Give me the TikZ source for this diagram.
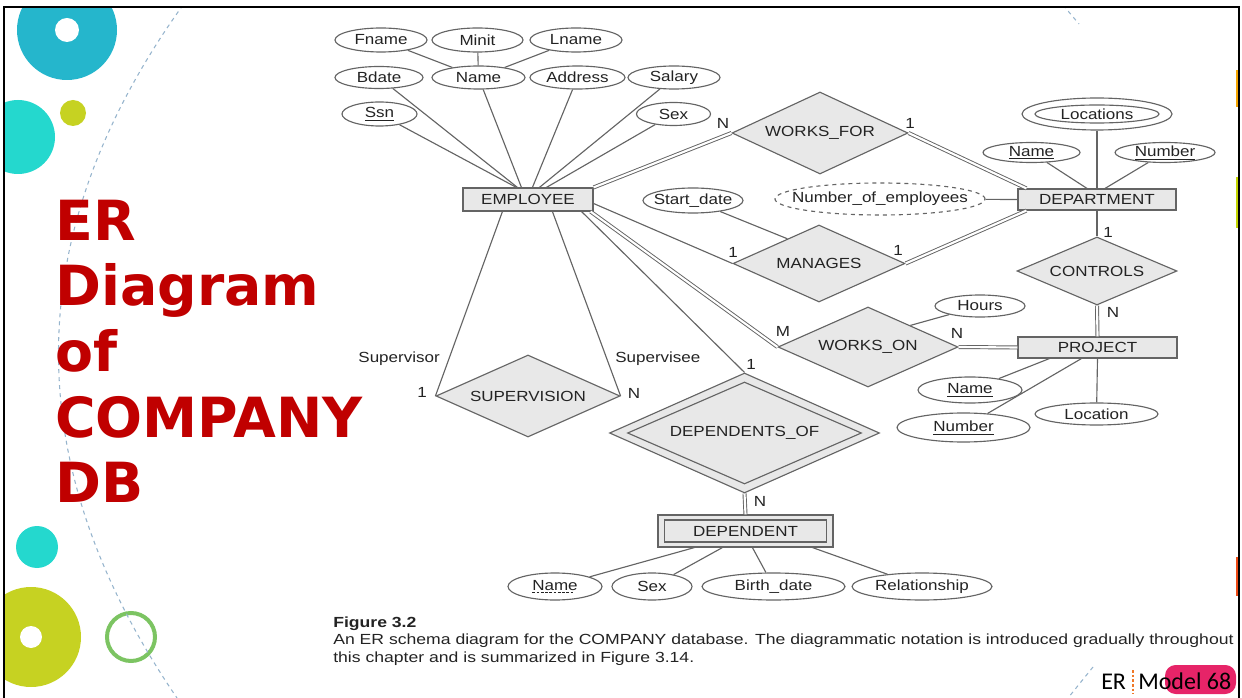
\documentclass[tikz,border=0pt]{standalone}
\usepackage{fontspec}
\usetikzlibrary{shapes.geometric,calc}
\newfontfamily\figfont[FakeStretch=1.16]{Liberation Sans}
\newfontfamily\capfont[FakeStretch=1.2]{Liberation Sans}
\newfontfamily\titlefont{DejaVu Sans}
\newfontfamily\slidefont{Carlito}
\definecolor{lc}{RGB}{100,100,100}
\definecolor{boxfill}{RGB}{232,232,232}
\definecolor{txt}{RGB}{35,35,35}
\definecolor{titlered}{RGB}{192,0,0}
\definecolor{tealA}{RGB}{37,182,204}
\definecolor{turq}{RGB}{36,216,206}
\definecolor{limeA}{RGB}{198,210,34}
\definecolor{greenring}{RGB}{124,196,98}
\definecolor{arcblue}{RGB}{150,180,205}
\definecolor{pinkhl}{RGB}{230,36,104}
\definecolor{stripor}{RGB}{246,166,0}
\definecolor{stripgr}{RGB}{196,214,0}
\definecolor{stripred}{RGB}{238,74,20}
\definecolor{dashor}{RGB}{240,120,40}
% zero-width centred text, so the shape size comes from the minimum sizes
\newcommand{\zb}[1]{\makebox[0pt]{#1}}
% key underlines: solid and dashed
\newsavebox{\keybox}
\newcommand{\keyul}[1]{\sbox{\keybox}{#1}\rlap{\raisebox{-2.2pt}{\rule{\wd\keybox}{0.55pt}}}\usebox{\keybox}}
\newcommand{\keydul}[1]{\sbox{\keybox}{#1}\rlap{\raisebox{-2.2pt}{\hbox to \wd\keybox{\leaders\hbox{\rule{2pt}{0.55pt}\hskip1.2pt}\hfill}}}\usebox{\keybox}}
\begin{document}
\begin{tikzpicture}[x=0.75pt,y=-0.75pt,
  lab/.style={font=\figfont\fontsize{11}{13}\selectfont, text=txt, inner sep=0pt},
  attr/.style 2 args={ellipse, draw=lc, line width=0.85pt, fill=white,
    minimum width=#1*1.5pt, minimum height=#2*1.5pt, inner sep=0pt, lab},
  ent/.style 2 args={rectangle, draw=lc, line width=0.85pt, fill=boxfill,
    minimum width=#1*0.75pt, minimum height=#2*0.75pt, inner sep=0pt, lab},
  rel/.style 2 args={diamond, draw=lc, line width=0.85pt, fill=boxfill,
    minimum width=#1*1.5pt, minimum height=#2*1.5pt, inner sep=0pt, lab},
  ln/.style={draw=lc, line width=0.85pt},
  dbl/.style={draw=lc, line width=0.7pt, double=white, double distance=1.6pt},
  card/.style={lab},
  titleline/.style={anchor=base west, inner sep=0pt, text=titlered,
    font=\titlefont\bfseries\fontsize{41.5}{48}\selectfont},
  capline/.style={anchor=base west, inner sep=0pt, text=txt,
    font=\capfont\fontsize{11}{13}\selectfont},
  decodash/.style={draw=arcblue, line width=0.8pt, dash pattern=on 3pt off 3pt}]
\useasboundingbox (0,0) rectangle (1242,698);

% slide decorations, kept inside the frame
\begin{scope}
  \clip (4,7) rectangle (1239,698);
  \fill[tealA] (67,30) circle[radius=50];
  \fill[white] (67,30) circle[radius=12];
  \fill[turq] (18,137) circle[radius=37];
  \fill[limeA] (73,113) circle[radius=13];
  \fill[turq] (37,547) circle[radius=21];
  \fill[limeA] (31,637) circle[radius=50];
  \fill[white] (31,637) circle[radius=11];
  \draw[greenring, line width=3pt] (131,637) circle[radius=24];
  \draw[decodash] (183,5) .. controls (18,235) and (18,465) .. (177,698);
  \draw[decodash] (1063,5) -- (1079,24);
  \draw[decodash] (1093,667) -- (1068,698);
  \fill[stripor] (1235.5,70) rectangle (1238.5,107);
  \fill[stripgr] (1235.5,177) rectangle (1238.5,228);
  \fill[stripred] (1235.5,557) rectangle (1238.5,596);
\end{scope}

% title
\node[titleline] (t1) at (55,241) {ER};
\node[titleline] (t2) at (55,306) {Diagram};
\node[titleline] (t3) at (55,372) {of};
\node[titleline] (t4) at (55,437) {COMPANY};
\node[titleline] (t5) at (55,502) {DB};

% entities
\node[ent={130}{23}] (emp) at (528,199.5) {EMPLOYEE};
\node[ent={158}{21}] (dept) at (1097,199.5) {DEPARTMENT};
\node[ent={159}{21}] (proj) at (1097.5,347.5) {PROJECT};
\node[ent={175}{32}] (dep) at (745.5,531) {};
\node[ent={162}{22}] (depin) at (745.5,531) {DEPENDENT};

% relationships
\node[rel={88}{41}] (wf) at (820,133) {\zb{WORKS\_FOR}};
\node[rel={86}{38.5}] (man) at (819,263.5) {\zb{MANAGES}};
\node[rel={90}{40}] (won) at (868,347) {\zb{WORKS\_ON}};
\node[rel={80}{34}] (ctrl) at (1097,271) {\zb{CONTROLS}};
\node[rel={92}{41}] (sup) at (528,396) {\zb{SUPERVISION}};
\node[rel={135}{60}] (dof) at (744.5,433) {};
\node[rel={117}{51}] (dofin) at (744.5,433) {\zb{DEPENDENTS\_OF}};

% attributes of EMPLOYEE
\node[attr={46}{12}] (fname) at (381,40) {\zb{Fname}};
\node[attr={45.5}{12}] (minit) at (477.5,40) {\zb{Minit}};
\node[attr={46}{12}] (lname) at (576,40) {\zb{Lname}};
\node[attr={44}{11}] (bdate) at (379,77.5) {\zb{Bdate}};
\node[attr={46.5}{11.5}] (ename) at (478.5,77.5) {\zb{Name}};
\node[attr={47.5}{11.5}] (addr) at (577.5,77.5) {\zb{Address}};
\node[attr={46}{11.5}] (salary) at (674,77.5) {\zb{Salary}};
\node[attr={37.5}{12}] (ssn) at (379.5,114) {\zb{\keyul{Ssn}}};
\node[attr={37}{11.5}] (esex) at (673.5,114) {\zb{Sex}};

% attributes of DEPARTMENT
\node[attr={75}{16}] (locs) at (1097,114) {};
\node[attr={62}{9}] (locsin) at (1097,114) {\zb{Locations}};
\node[attr={48.5}{10}] (dname) at (1031.5,152.5) {\zb{\keyul{Name}}};
\node[attr={50}{10}] (dnum) at (1165,152.5) {\zb{\keyul{Number}}};
\node[attr={105}{16}, dashed] (numemp) at (880,199) {\zb{Number\_of\_employees}};
\node[attr={50}{12.5}] (sdate) at (693,200.5) {\zb{Start\_date}};
\node[attr={45}{11}] (hours) at (980,306) {\zb{Hours}};

% attributes of PROJECT
\node[attr={52}{13}] (pname) at (970,390) {\zb{\keyul{Name}}};
\node[attr={66.5}{14.5}] (pnum) at (963.5,427.5) {\zb{\keyul{Number}}};
\node[attr={61.5}{11}] (ploc) at (1096.5,414) {\zb{Location}};

% attributes of DEPENDENT
\node[attr={47}{13.5}] (depname) at (555,586.5) {\zb{\keydul{Name}}};
\node[attr={40}{13.5}] (depsex) at (652,586.5) {\zb{Sex}};
\node[attr={71.5}{13.5}] (depbd) at (773.5,586.5) {\zb{Birth\_date}};
\node[attr={70}{13.5}] (deprel) at (922,586.5) {\zb{Relationship}};

% composite name
\draw[ln] (fname) -- (ename);
\draw[ln] (minit) -- (ename);
\draw[ln] (lname) -- (ename);

% EMPLOYEE attribute links
\draw[ln] (ssn) -- ($(emp.north west)+(54,0)$);
\draw[ln] (bdate) -- ($(emp.north west)+(55,0)$);
\draw[ln] (ename) -- ($(emp.north west)+(59,0)$);
\draw[ln] (addr) -- ($(emp.north west)+(70,0)$);
\draw[ln] (salary) -- ($(emp.north west)+(77,0)$);
\draw[ln] (esex) -- ($(emp.north west)+(84,0)$);

% DEPARTMENT attribute links
\draw[ln] (locs) -- (dept.north);
\draw[ln] (dname) -- ($(dept.north)+(-10,0)$);
\draw[ln] (dnum) -- ($(dept.north)+(8,0)$);
\draw[ln] (numemp) -- (dept.west);

% relationship links
\draw[dbl] (emp.north east) -- (wf.west);
\draw[dbl] (wf.east) -- ($(dept.north west)+(9,0)$);
\draw[ln] ($(emp.east)+(0,4)$) -- (man.west);
\draw[dbl] (man.east) -- ($(dept.south west)+(9,0)$);
\draw[ln] (sdate) -- (man.142);
\draw[dbl] ($(emp.south east)+(-3,0)$) -- (won.west);
\draw[dbl] (won.east) -- (proj.west);
\draw[ln] (hours) -- (won.27);
\draw[ln] (dept.south) -- (ctrl.north);
\draw[dbl] (ctrl.south) -- (proj.north);
\draw[ln] ($(emp.south west)+(40,0)$) -- (sup.west);
\draw[ln] ($(emp.south west)+(90,0)$) -- (sup.east);
\draw[ln] ($(emp.south east)+(-12,0)$) -- (dof.north);
\draw[dbl] (dof.south) -- (dep.north);

% PROJECT attribute links
\draw[ln] (pname) -- ($(proj.south west)+(32,0)$);
\draw[ln] (pnum) -- ($(proj.south west)+(64,0)$);
\draw[ln] (ploc) -- (proj.south);

% DEPENDENT attribute links
\draw[ln] (depname) -- ($(dep.south west)+(37,0)$);
\draw[ln] (depsex) -- ($(dep.south west)+(65,0)$);
\draw[ln] (depbd) -- ($(dep.south west)+(95,0)$);
\draw[ln] (deprel) -- ($(dep.south west)+(155,0)$);

% cardinalities and roles
\node[card] (c1) at (723,123) {N};
\node[card] (c2) at (910,123) {1};
\node[card] (c3) at (733,252) {1};
\node[card] (c4) at (898,250) {1};
\node[card] (c5) at (783,331) {M};
\node[card] (c6) at (957,333) {N};
\node[card] (c7) at (1108,232) {1};
\node[card] (c8) at (1113,312) {N};
\node[card] (c9) at (751,364) {1};
\node[card] (c10) at (760,501) {N};
\node[card] (c11) at (422,392) {1};
\node[card] (c12) at (634,393) {N};
\node[lab, anchor=east] (rsor) at (440,359) {Supervisor};
\node[lab, anchor=west] (rsee) at (615,359) {Supervisee};

% caption
\node[capline, font=\capfont\bfseries\fontsize{11}{13}\selectfont] (figno) at (333,627) {Figure 3.2};
\node[capline] (cap1) at (333,644) {An ER schema diagram for the COMPANY database. The diagrammatic notation is introduced gradually throughout};
\node[capline] (cap2) at (333,662) {this chapter and is summarized in Figure 3.14.};

% slide footer
\fill[pinkhl, rounded corners=8pt] (1165,665) rectangle (1236,694);
\draw[dashor, line width=0.8pt, dash pattern=on 2pt off 1.5pt] (1133,670) -- (1133,694);
\node[anchor=base west, inner sep=0pt, font=\slidefont\fontsize{18}{20}\selectfont] (erw) at (1101,689) {ER};
\node[anchor=base west, inner sep=0pt, font=\slidefont\fontsize{18}{20}\selectfont] (modelw) at (1138,689) {Model 68};

% frame
\draw[black, line width=1.5pt] (4,698) -- (4,7) -- (1239,7) -- (1239,698);
\end{tikzpicture}
\end{document}
